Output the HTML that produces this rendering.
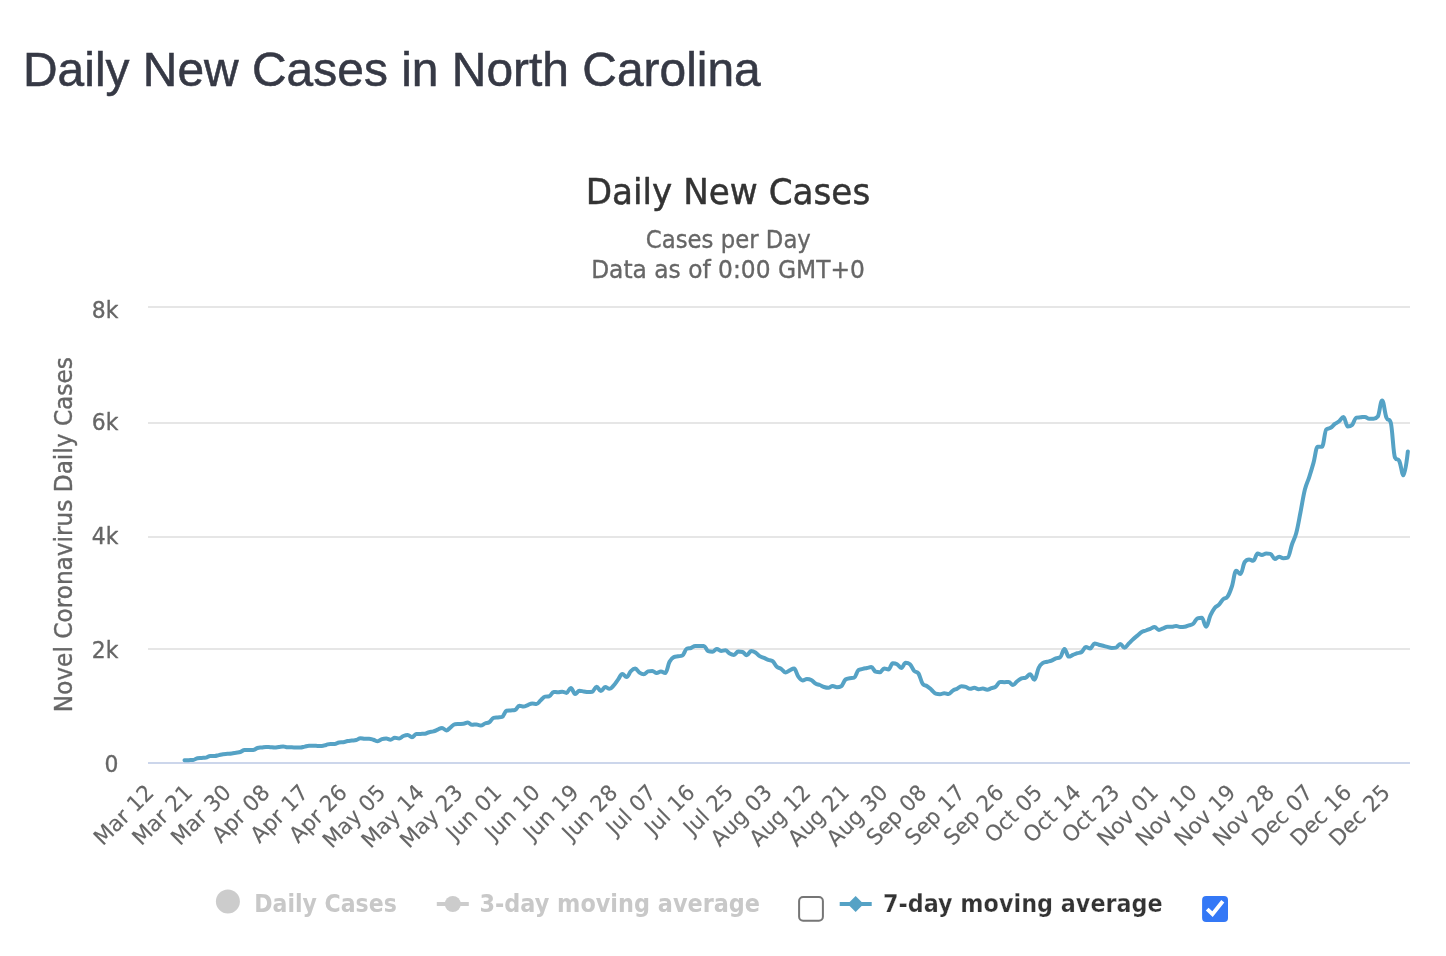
<!DOCTYPE html>
<html lang="en">
<head>
<meta charset="utf-8">
<title>Daily New Cases in North Carolina</title>
<style>
html,body{margin:0;padding:0;background:#fff;}
body{width:1446px;height:956px;overflow:hidden;position:relative;font-family:"Liberation Sans",Arial,Helvetica,sans-serif;}
h3{position:absolute;left:22.9px;top:39.4px;margin:0;font-weight:400;font-size:49px;line-height:60px;color:#363945;white-space:nowrap;transform-origin:0 50%;transform:scaleX(0.978);-webkit-text-stroke:0.55px #363945;}
#chart{position:absolute;left:0;top:0;width:1446px;height:956px;}
#chart text{font-family:"DejaVu Sans", "Liberation Sans", sans-serif;stroke-width:0.35px;stroke-linejoin:round;}
#chart [fill="#333333"]{stroke:#333333;}
#chart [fill="#666666"]{stroke:#666666;}
#chart .xaxis-labels text{stroke-width:0.15px;}
#chart .legend text{stroke:none;}
</style>
</head>
<body>
<h3>Daily New Cases in North Carolina</h3>
<svg id="chart" width="1446" height="956" viewBox="0 0 1446 956">
<g class="grid">
<rect x="148" y="306" width="1262" height="2" fill="#e6e6e6"/>
<rect x="148" y="422" width="1262" height="2" fill="#e6e6e6"/>
<rect x="148" y="536" width="1262" height="2" fill="#e6e6e6"/>
<rect x="148" y="648" width="1262" height="2" fill="#e6e6e6"/>
<rect x="148" y="762" width="1262" height="2" fill="#ccd6eb"/>
</g>
<text x="728.0" y="203.5" text-anchor="middle" font-size="36" fill="#333333" textLength="284.5" lengthAdjust="spacingAndGlyphs" style="stroke-width:0.5px">Daily New Cases</text>
<text x="728.35" y="247.5" text-anchor="middle" font-size="24" fill="#666666" textLength="165" lengthAdjust="spacingAndGlyphs">Cases per Day</text>
<text x="728" y="277.6" text-anchor="middle" font-size="24" fill="#666666" textLength="273.7" lengthAdjust="spacingAndGlyphs">Data as of 0:00 GMT+0</text>
<text transform="translate(71.6,534.7) rotate(-90)" text-anchor="middle" font-size="24.6" fill="#666666" textLength="355" lengthAdjust="spacingAndGlyphs">Novel Coronavirus Daily Cases</text>
<g class="yaxis-labels" font-size="22.8" fill="#666666" text-anchor="end">
<text transform="translate(118.4,318) scale(0.96,1)">8k</text>
<text transform="translate(118.4,430) scale(0.96,1)">6k</text>
<text transform="translate(118.4,544) scale(0.96,1)">4k</text>
<text transform="translate(118.4,658) scale(0.96,1)">2k</text>
<text transform="translate(118.4,772) scale(0.96,1)">0</text>
</g>
<g class="xaxis-labels" font-size="22" fill="#666666" text-anchor="end">
<text transform="translate(155.15,794.00) rotate(-45) scale(0.97,1)">Mar 12</text>
<text transform="translate(193.78,794.00) rotate(-45) scale(0.97,1)">Mar 21</text>
<text transform="translate(232.41,794.00) rotate(-45) scale(0.97,1)">Mar 30</text>
<text transform="translate(271.04,794.00) rotate(-45) scale(0.97,1)">Apr 08</text>
<text transform="translate(309.68,794.00) rotate(-45) scale(0.97,1)">Apr 17</text>
<text transform="translate(348.31,794.00) rotate(-45) scale(0.97,1)">Apr 26</text>
<text transform="translate(386.94,794.00) rotate(-45) scale(0.97,1)">May 05</text>
<text transform="translate(425.57,794.00) rotate(-45) scale(0.97,1)">May 14</text>
<text transform="translate(464.21,794.00) rotate(-45) scale(0.97,1)">May 23</text>
<text transform="translate(502.84,794.00) rotate(-45) scale(0.97,1)">Jun 01</text>
<text transform="translate(541.47,794.00) rotate(-45) scale(0.97,1)">Jun 10</text>
<text transform="translate(580.11,794.00) rotate(-45) scale(0.97,1)">Jun 19</text>
<text transform="translate(618.74,794.00) rotate(-45) scale(0.97,1)">Jun 28</text>
<text transform="translate(657.37,794.00) rotate(-45) scale(0.97,1)">Jul 07</text>
<text transform="translate(696.00,794.00) rotate(-45) scale(0.97,1)">Jul 16</text>
<text transform="translate(734.64,794.00) rotate(-45) scale(0.97,1)">Jul 25</text>
<text transform="translate(773.27,794.00) rotate(-45) scale(0.97,1)">Aug 03</text>
<text transform="translate(811.90,794.00) rotate(-45) scale(0.97,1)">Aug 12</text>
<text transform="translate(850.53,794.00) rotate(-45) scale(0.97,1)">Aug 21</text>
<text transform="translate(889.17,794.00) rotate(-45) scale(0.97,1)">Aug 30</text>
<text transform="translate(927.80,794.00) rotate(-45) scale(0.97,1)">Sep 08</text>
<text transform="translate(966.43,794.00) rotate(-45) scale(0.97,1)">Sep 17</text>
<text transform="translate(1005.06,794.00) rotate(-45) scale(0.97,1)">Sep 26</text>
<text transform="translate(1043.70,794.00) rotate(-45) scale(0.97,1)">Oct 05</text>
<text transform="translate(1082.33,794.00) rotate(-45) scale(0.97,1)">Oct 14</text>
<text transform="translate(1120.96,794.00) rotate(-45) scale(0.97,1)">Oct 23</text>
<text transform="translate(1159.60,794.00) rotate(-45) scale(0.97,1)">Nov 01</text>
<text transform="translate(1198.23,794.00) rotate(-45) scale(0.97,1)">Nov 10</text>
<text transform="translate(1236.86,794.00) rotate(-45) scale(0.97,1)">Nov 19</text>
<text transform="translate(1275.49,794.00) rotate(-45) scale(0.97,1)">Nov 28</text>
<text transform="translate(1314.13,794.00) rotate(-45) scale(0.97,1)">Dec 07</text>
<text transform="translate(1352.76,794.00) rotate(-45) scale(0.97,1)">Dec 16</text>
<text transform="translate(1391.39,794.00) rotate(-45) scale(0.97,1)">Dec 25</text>
</g>
<path class="series" d="M184.49 760.30 C184.49 760.30 187.06 760.21 188.78 760.15 C190.50 760.09 191.35 760.15 193.07 760.00 C194.79 759.85 195.65 758.50 197.36 758.20 C199.08 757.90 199.94 758.02 201.66 757.90 C203.37 757.78 204.23 757.90 205.95 757.60 C207.67 757.30 208.52 756.00 210.24 756.00 C211.96 756.00 212.82 756.00 214.53 756.00 C216.25 756.00 217.11 755.46 218.83 755.10 C220.54 754.74 221.40 754.45 223.12 754.20 C224.84 753.95 225.69 753.99 227.41 753.85 C229.13 753.71 229.99 753.72 231.70 753.50 C233.42 753.28 234.28 753.05 236.00 752.75 C237.71 752.45 238.57 752.55 240.29 752.00 C242.01 751.45 242.86 750.00 244.58 750.00 C246.30 750.00 247.16 750.00 248.87 750.00 C250.59 750.00 251.45 750.00 253.17 750.00 C254.88 750.00 255.74 748.51 257.46 748.00 C259.18 747.49 260.03 747.67 261.75 747.45 C263.47 747.23 264.33 746.90 266.04 746.90 C267.76 746.90 268.62 747.08 270.34 747.20 C272.05 747.32 272.91 747.50 274.63 747.50 C276.35 747.50 277.20 747.17 278.92 746.95 C280.64 746.73 281.50 746.40 283.21 746.40 C284.93 746.40 285.79 747.23 287.51 747.30 C289.22 747.37 290.08 747.34 291.80 747.37 C293.52 747.39 294.37 747.41 296.09 747.43 C297.81 747.46 298.67 747.50 300.38 747.50 C302.10 747.50 302.96 746.99 304.68 746.65 C306.39 746.31 307.25 745.80 308.97 745.80 C310.69 745.80 311.54 745.80 313.26 745.80 C314.98 745.80 315.84 745.86 317.55 745.90 C319.27 745.94 320.13 746.00 321.85 746.00 C323.56 746.00 324.42 745.37 326.14 744.95 C327.86 744.53 328.71 743.90 330.43 743.90 C332.15 743.90 333.01 743.90 334.72 743.90 C336.44 743.90 337.30 742.60 339.02 742.40 C340.73 742.20 341.59 742.40 343.31 742.20 C345.03 742.00 345.89 741.34 347.60 741.00 C349.32 740.66 350.18 740.70 351.89 740.50 C353.61 740.30 354.47 740.46 356.19 740.00 C357.90 739.54 358.76 738.20 360.48 738.20 C362.20 738.20 363.06 738.80 364.77 738.80 C366.49 738.80 367.35 738.80 369.06 738.80 C370.78 738.80 371.64 739.22 373.36 739.70 C375.07 740.18 375.93 741.20 377.65 741.20 C379.37 741.20 380.23 739.64 381.94 739.10 C383.66 738.56 384.52 738.50 386.23 738.50 C387.95 738.50 388.81 739.70 390.53 739.70 C392.24 739.70 393.10 737.80 394.82 737.80 C396.54 737.80 397.40 738.50 399.11 738.50 C400.83 738.50 401.69 736.70 403.40 736.00 C405.12 735.30 405.98 735.00 407.70 735.00 C409.41 735.00 410.27 737.20 411.99 737.20 C413.71 737.20 414.57 734.30 416.28 734.10 C418.00 733.90 418.86 733.98 420.57 733.90 C422.29 733.82 423.15 733.90 424.87 733.70 C426.58 733.50 427.44 732.66 429.16 732.20 C430.88 731.74 431.74 731.91 433.45 731.40 C435.17 730.89 436.03 730.35 437.74 729.65 C439.46 728.95 440.32 727.90 442.04 727.90 C443.75 727.90 444.61 730.40 446.33 730.40 C448.05 730.40 448.91 728.54 450.62 727.30 C452.34 726.06 453.20 724.40 454.91 724.20 C456.63 724.00 457.49 724.08 459.21 724.00 C460.92 723.92 461.78 724.00 463.50 723.80 C465.22 723.60 466.08 722.50 467.79 722.50 C469.51 722.50 470.37 724.80 472.09 724.80 C473.80 724.80 474.66 724.40 476.38 724.40 C478.09 724.40 478.95 725.60 480.67 725.60 C482.39 725.60 483.25 724.16 484.96 723.50 C486.68 722.84 487.54 723.42 489.26 722.30 C490.97 721.18 491.83 718.40 493.55 717.90 C495.26 717.40 496.12 717.60 497.84 717.40 C499.56 717.20 500.42 717.40 502.13 716.90 C503.85 716.40 504.71 711.20 506.43 710.80 C508.14 710.40 509.00 710.56 510.72 710.40 C512.43 710.24 513.29 710.40 515.01 710.00 C516.73 709.60 517.59 705.70 519.30 705.70 C521.02 705.70 521.88 706.60 523.60 706.60 C525.31 706.60 526.17 705.67 527.89 705.05 C529.60 704.43 530.46 703.50 532.18 703.50 C533.90 703.50 534.76 703.90 536.47 703.90 C538.19 703.90 539.05 701.71 540.77 700.25 C542.48 698.79 543.34 696.90 545.06 696.60 C546.77 696.30 547.63 696.60 549.35 696.30 C551.07 696.00 551.93 691.90 553.64 691.90 C555.36 691.90 556.22 692.30 557.94 692.30 C559.65 692.30 560.51 691.70 562.23 691.70 C563.94 691.70 564.80 692.90 566.52 692.90 C568.24 692.90 569.10 687.90 570.81 687.90 C572.53 687.90 573.39 693.90 575.11 693.90 C576.82 693.90 577.68 690.80 579.40 690.80 C581.11 690.80 581.97 691.16 583.69 691.40 C585.41 691.64 586.27 692.00 587.98 692.00 C589.70 692.00 590.56 692.00 592.28 691.70 C593.99 691.40 594.85 686.70 596.57 686.70 C598.29 686.70 599.14 691.00 600.86 691.00 C602.58 691.00 603.44 687.10 605.15 687.10 C606.87 687.10 607.73 688.80 609.45 688.80 C611.16 688.80 612.02 687.23 613.74 685.40 C615.46 683.57 616.31 681.95 618.03 679.65 C619.75 677.35 620.61 673.90 622.32 673.90 C624.04 673.90 624.90 677.10 626.62 677.10 C628.33 677.10 629.19 672.80 630.91 671.10 C632.63 669.40 633.48 668.60 635.20 668.60 C636.92 668.60 637.78 671.48 639.49 672.60 C641.21 673.72 642.07 674.20 643.79 674.20 C645.50 674.20 646.36 671.90 648.08 671.40 C649.80 670.90 650.65 670.90 652.37 670.90 C654.09 670.90 654.95 673.00 656.66 673.00 C658.38 673.00 659.24 671.50 660.96 671.50 C662.67 671.50 663.53 673.00 665.25 673.00 C666.97 673.00 667.82 664.98 669.54 661.80 C671.26 658.62 672.12 657.90 673.83 657.10 C675.55 656.30 676.41 656.62 678.13 656.30 C679.84 655.98 680.70 656.30 682.42 655.50 C684.14 654.70 684.99 649.60 686.71 648.80 C688.43 648.00 689.29 648.58 691.00 648.00 C692.72 647.42 693.58 645.90 695.30 645.90 C697.01 645.90 697.87 645.90 699.59 645.90 C701.31 645.90 702.16 645.90 703.88 645.90 C705.60 645.90 706.46 650.50 708.17 651.10 C709.89 651.70 710.75 651.70 712.47 651.70 C714.18 651.70 715.04 648.90 716.76 648.90 C718.48 648.90 719.33 650.90 721.05 650.90 C722.77 650.90 723.63 650.30 725.34 650.30 C727.06 650.30 727.92 652.68 729.64 653.60 C731.35 654.52 732.21 654.90 733.93 654.90 C735.65 654.90 736.50 651.50 738.22 651.50 C739.94 651.50 740.80 651.50 742.51 652.00 C744.23 652.50 745.09 655.20 746.81 655.20 C748.52 655.20 749.38 651.10 751.10 651.10 C752.82 651.10 753.67 651.40 755.39 652.40 C757.11 653.40 757.97 654.99 759.68 656.10 C761.40 657.21 762.26 657.21 763.98 657.95 C765.69 658.69 766.55 659.17 768.27 659.80 C769.99 660.43 770.84 659.80 772.56 661.10 C774.28 662.40 775.14 665.16 776.85 666.70 C778.57 668.24 779.43 667.64 781.15 668.80 C782.86 669.96 783.72 672.50 785.44 672.50 C787.16 672.50 788.01 671.20 789.73 670.40 C791.45 669.60 792.31 668.50 794.02 668.50 C795.74 668.50 796.60 674.22 798.32 676.60 C800.03 678.98 800.89 680.40 802.61 680.40 C804.33 680.40 805.18 679.10 806.90 679.10 C808.62 679.10 809.48 679.12 811.19 680.00 C812.91 680.88 813.77 682.50 815.49 683.50 C817.20 684.50 818.06 684.30 819.78 685.00 C821.50 685.70 822.35 686.44 824.07 687.00 C825.79 687.56 826.65 687.80 828.36 687.80 C830.08 687.80 830.94 686.00 832.66 686.00 C834.37 686.00 835.23 687.20 836.95 687.20 C838.67 687.20 839.52 687.20 841.24 686.20 C842.96 685.20 843.82 680.70 845.53 679.50 C847.25 678.30 848.11 678.66 849.83 678.30 C851.54 677.94 852.40 678.30 854.12 677.70 C855.84 677.10 856.69 671.50 858.41 670.20 C860.13 668.90 860.99 669.34 862.70 668.90 C864.42 668.46 865.28 668.36 867.00 668.00 C868.71 667.64 869.57 667.10 871.29 667.10 C873.01 667.10 873.86 671.10 875.58 671.70 C877.30 672.30 878.16 672.30 879.87 672.30 C881.59 672.30 882.45 668.50 884.17 668.50 C885.88 668.50 886.74 669.40 888.46 669.40 C890.18 669.40 891.03 663.30 892.75 663.30 C894.47 663.30 895.33 663.30 897.04 664.20 C898.76 665.10 899.62 667.90 901.34 667.90 C903.05 667.90 903.91 662.70 905.63 662.70 C907.35 662.70 908.20 662.70 909.92 664.20 C911.64 665.70 912.50 669.14 914.21 671.00 C915.93 672.86 916.79 671.00 918.51 673.50 C920.22 676.00 921.08 682.00 922.80 684.10 C924.52 686.20 925.37 685.08 927.09 686.20 C928.81 687.32 929.67 688.20 931.38 689.70 C933.10 691.20 933.96 693.10 935.68 693.70 C937.39 694.30 938.25 694.30 939.97 694.30 C941.69 694.30 942.54 693.20 944.26 693.20 C945.98 693.20 946.84 694.10 948.55 694.10 C950.27 694.10 951.13 691.68 952.85 690.60 C954.56 689.52 955.42 689.58 957.14 688.70 C958.86 687.82 959.71 686.20 961.43 686.20 C963.15 686.20 964.01 686.28 965.72 686.80 C967.44 687.32 968.30 688.80 970.02 688.80 C971.73 688.80 972.59 687.80 974.31 687.80 C976.03 687.80 976.89 689.30 978.60 689.30 C980.32 689.30 981.18 688.50 982.89 688.50 C984.61 688.50 985.47 689.70 987.19 689.70 C988.90 689.70 989.76 688.82 991.48 688.20 C993.20 687.58 994.06 687.86 995.77 686.60 C997.49 685.34 998.35 681.90 1000.06 681.90 C1001.78 681.90 1002.64 682.20 1004.36 682.20 C1006.07 682.20 1006.93 681.90 1008.65 681.90 C1010.37 681.90 1011.23 685.00 1012.94 685.00 C1014.66 685.00 1015.52 682.54 1017.23 681.20 C1018.95 679.86 1019.81 679.00 1021.53 678.30 C1023.24 677.60 1024.10 678.30 1025.82 677.60 C1027.54 676.90 1028.40 674.30 1030.11 674.30 C1031.83 674.30 1032.69 679.70 1034.40 679.70 C1036.12 679.70 1036.98 671.16 1038.70 667.80 C1040.41 664.44 1041.27 664.05 1042.99 662.90 C1044.71 661.75 1045.57 662.21 1047.28 661.75 C1049.00 661.29 1049.86 661.29 1051.57 660.60 C1053.29 659.91 1054.15 658.96 1055.87 658.30 C1057.58 657.64 1058.44 658.30 1060.16 657.30 C1061.88 656.30 1062.74 648.90 1064.45 648.90 C1066.17 648.90 1067.03 656.60 1068.74 656.60 C1070.46 656.60 1071.32 655.58 1073.04 654.90 C1074.75 654.22 1075.61 653.78 1077.33 653.20 C1079.05 652.62 1079.91 653.20 1081.62 652.00 C1083.34 650.80 1084.20 647.10 1085.91 647.10 C1087.63 647.10 1088.49 648.50 1090.21 648.50 C1091.92 648.50 1092.78 643.60 1094.50 643.60 C1096.22 643.60 1097.08 644.26 1098.79 644.70 C1100.51 645.14 1101.37 645.37 1103.09 645.80 C1104.80 646.23 1105.66 646.43 1107.38 646.85 C1109.09 647.27 1109.95 647.90 1111.67 647.90 C1113.39 647.90 1114.25 647.90 1115.96 647.60 C1117.68 647.30 1118.54 643.90 1120.26 643.90 C1121.97 643.90 1122.83 647.70 1124.55 647.70 C1126.26 647.70 1127.12 645.15 1128.84 643.45 C1130.56 641.75 1131.42 640.77 1133.13 639.20 C1134.85 637.63 1135.71 637.04 1137.43 635.60 C1139.14 634.16 1140.00 633.02 1141.72 632.00 C1143.43 630.98 1144.29 631.14 1146.01 630.50 C1147.73 629.86 1148.59 629.48 1150.30 628.80 C1152.02 628.12 1152.88 627.10 1154.60 627.10 C1156.31 627.10 1157.17 629.90 1158.89 629.90 C1160.60 629.90 1161.46 628.97 1163.18 628.35 C1164.90 627.73 1165.76 626.80 1167.47 626.80 C1169.19 626.80 1170.05 626.80 1171.77 626.80 C1173.48 626.80 1174.34 625.90 1176.06 625.90 C1177.77 625.90 1178.63 627.10 1180.35 627.10 C1182.07 627.10 1182.93 627.10 1184.64 626.80 C1186.36 626.50 1187.22 625.90 1188.94 625.30 C1190.65 624.70 1191.51 625.20 1193.23 623.80 C1194.94 622.40 1195.80 618.90 1197.52 618.30 C1199.24 617.70 1200.10 617.70 1201.81 617.70 C1203.53 617.70 1204.39 626.70 1206.11 626.70 C1207.82 626.70 1208.68 619.16 1210.40 615.40 C1212.11 611.64 1212.97 610.04 1214.69 607.90 C1216.41 605.76 1217.27 606.46 1218.98 604.70 C1220.70 602.94 1221.56 600.72 1223.28 599.10 C1224.99 597.48 1225.85 599.10 1227.57 596.60 C1229.29 594.10 1230.14 591.66 1231.86 586.50 C1233.58 581.34 1234.44 570.80 1236.15 570.80 C1237.87 570.80 1238.73 574.00 1240.45 574.00 C1242.16 574.00 1243.02 564.50 1244.74 562.00 C1246.46 559.50 1247.31 559.50 1249.03 559.50 C1250.75 559.50 1251.61 560.80 1253.32 560.80 C1255.04 560.80 1255.90 553.60 1257.62 553.60 C1259.33 553.60 1260.19 554.90 1261.91 554.90 C1263.63 554.90 1264.48 553.60 1266.20 553.60 C1267.92 553.60 1268.78 553.60 1270.49 553.90 C1272.21 554.20 1273.07 558.90 1274.79 558.90 C1276.50 558.90 1277.36 556.80 1279.08 556.80 C1280.80 556.80 1281.65 558.30 1283.37 558.30 C1285.09 558.30 1285.95 558.30 1287.66 557.70 C1289.38 557.10 1290.24 549.44 1291.96 544.50 C1293.67 539.56 1294.53 539.50 1296.25 533.00 C1297.97 526.50 1298.82 520.64 1300.54 512.00 C1302.26 503.36 1303.12 496.74 1304.83 489.80 C1306.55 482.86 1307.41 482.64 1309.13 477.30 C1310.84 471.96 1311.70 469.22 1313.42 463.10 C1315.14 456.98 1315.99 446.70 1317.71 446.70 C1319.43 446.70 1320.29 446.70 1322.00 446.70 C1323.72 446.70 1324.58 431.00 1326.30 429.40 C1328.01 427.80 1328.87 428.90 1330.59 427.80 C1332.31 426.70 1333.16 425.20 1334.88 423.90 C1336.60 422.60 1337.46 422.70 1339.17 421.30 C1340.89 419.90 1341.75 416.90 1343.47 416.90 C1345.18 416.90 1346.04 426.60 1347.76 426.60 C1349.48 426.60 1350.33 426.60 1352.05 425.00 C1353.77 423.40 1354.63 417.90 1356.34 417.60 C1358.06 417.30 1358.92 417.44 1360.64 417.30 C1362.35 417.16 1363.21 416.90 1364.93 416.90 C1366.65 416.90 1367.50 418.70 1369.22 418.70 C1370.94 418.70 1371.80 418.70 1373.51 418.70 C1375.23 418.70 1376.09 418.70 1377.81 416.50 C1379.52 414.30 1380.38 400.40 1382.10 400.40 C1383.82 400.40 1384.67 413.20 1386.39 417.60 C1388.11 422.00 1388.97 417.60 1390.68 422.40 C1392.40 427.20 1393.26 454.00 1394.98 457.50 C1396.69 461.00 1397.55 457.50 1399.27 461.00 C1400.99 464.50 1401.84 475.30 1403.56 475.30 C1405.28 475.30 1407.85 451.50 1407.85 451.50" fill="none" stroke="#55a2c5" stroke-width="4" stroke-linejoin="round" stroke-linecap="round"/>
<g class="legend" font-size="24" font-weight="bold">
<circle cx="227.9" cy="901.6" r="12" fill="#cccccc"/>
<text x="254.3" y="911.6" fill="#c8c8c8" textLength="142.5" lengthAdjust="spacingAndGlyphs">Daily Cases</text>
<rect x="436.8" y="902" width="32" height="4" fill="#cccccc"/>
<circle cx="452.8" cy="904" r="8" fill="#cccccc"/>
<text x="479.4" y="911.6" fill="#c8c8c8" textLength="280.6" lengthAdjust="spacingAndGlyphs">3-day moving average</text>
<rect x="839.7" y="902" width="32" height="4" fill="#55a2c5"/>
<path d="M855.6 896 L863.6 904 L855.6 912 L847.6 904 Z" fill="#55a2c5"/>
<text x="882.9" y="911.6" fill="#333333" textLength="279.8" lengthAdjust="spacingAndGlyphs" style="stroke:#ffffff;stroke-width:0.25px">7-day moving average</text>
</g>
<rect x="799.1" y="897" width="23.8" height="23.8" rx="4" ry="4" fill="#ffffff" stroke="#767676" stroke-width="2"/>
<rect x="1202.1" y="895.9" width="25.9" height="26.1" rx="4" ry="4" fill="#3478f6"/>
<path d="M1207.2 909.1 L1212.5 914.1 L1222.8 901.2" fill="none" stroke="#ffffff" stroke-width="3.9" stroke-linecap="butt" stroke-linejoin="miter"/>
</svg>
</body>
</html>
